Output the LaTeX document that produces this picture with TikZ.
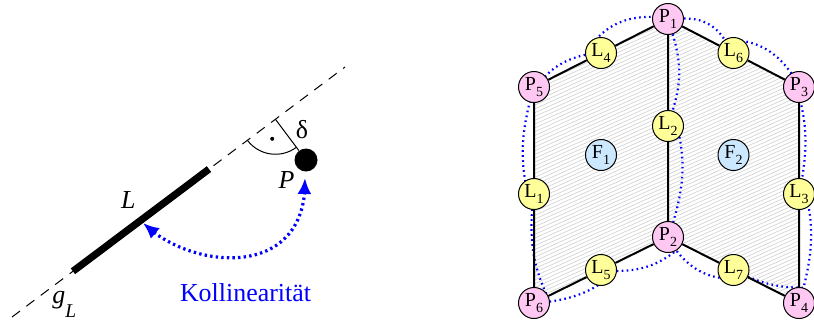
\documentclass[tikz,border=0pt]{standalone}
\usepackage{fontspec}
\setmainfont{Liberation Serif}
\usetikzlibrary{arrows.meta,calc,backgrounds,bending}

\definecolor{pinkP}{RGB}{255,200,242}
\definecolor{yellowL}{RGB}{255,255,153}
\definecolor{blueF}{RGB}{204,232,255}

\newcommand{\mysub}[2]{#1\raisebox{-2.6bp}{\fontsize{7}{7}\selectfont #2}}

\tikzset{
  vtx/.style={circle, draw, line width=0.5bp, minimum size=15.5bp, inner sep=0pt,
              font=\fontsize{10}{10}\selectfont},
  pnode/.style={vtx, fill=pinkP},
  lnode/.style={vtx, fill=yellowL},
  fnode/.style={vtx, fill=blueF},
  edge/.style={line width=1bp},
  hatch/.style={gray!38, line width=0.3bp},
  outline/.style={blue, line width=1.1bp, dash pattern=on 0.8bp off 1.7bp},
  lbl/.style={font=\fontsize{13}{15}\selectfont, inner sep=0pt},
  gline/.style={line width=0.5bp, dash pattern=on 5bp off 4bp},
  segL/.style={line width=3.6bp},
  thinline/.style={line width=0.5bp},
  pdot/.style={circle, fill=black, minimum size=11.5bp, inner sep=0pt},
  kollarrow/.style={blue, line width=1.6bp, dash pattern=on 1.2bp off 1.6bp,
                    {Latex[length=8bp,width=7bp]}-{Latex[length=8bp,width=7bp]}}
}

\begin{document}
\begin{tikzpicture}[x=0.5bp,y=-0.5bp]
\useasboundingbox (0,0) rectangle (814,321);

% ---------- left part ----------
\coordinate (gA) at (12,317);
\coordinate (gB) at (345,67);
\coordinate (Ls) at ($(gA)!0.183!(gB)$);
\coordinate (Le) at ($(gA)!0.5916!(gB)$);
\node[pdot] (P) at (306,160) {};
\coordinate (foot) at ($(gA)!(P)!(gB)$);

\draw[gline] (gA) -- (gB);
\draw[segL] (Ls) -- (Le);
\draw[thinline] (foot) -- (P);
\draw[thinline] ($(foot)!17.5bp!(gA)$) arc[start angle=216.9, end angle=306.9, radius=17.5bp];
\fill (272.2,138.8) circle[radius=1bp];

\node[lbl] (Llab) at (128.3,200.5) {\itshape L};
\node[lbl] (Plab) at (286.5,180) {\itshape P};
\node[lbl] (dlab) at (302,130) {δ};
\node[lbl, anchor=base west] (glab) at (52,303) {\itshape g\raisebox{-7.3bp}{\fontsize{9.8}{10}\selectfont\itshape L}};
\node[lbl, anchor=base, text=blue] (koll) at (245.5,301.5) {Kollinearität};

\coordinate (tipL) at (143,223);
\coordinate (tipP) at (305,178);
\draw[kollarrow] (tipL) .. controls (190,270) and (308,282) .. (tipP);

% ---------- right part ----------
\node[pnode] (P1) at (668,19) {\mysub{P}{1}};
\node[pnode] (P2) at (668,237) {\mysub{P}{2}};
\node[pnode] (P3) at (799,87) {\mysub{P}{3}};
\node[pnode] (P4) at (799,303) {\mysub{P}{4}};
\node[pnode] (P5) at (534,87) {\mysub{P}{5}};
\node[pnode] (P6) at (534,303) {\mysub{P}{6}};
\node[lnode] (L1) at (534,194) {\mysub{L}{1}};
\node[lnode] (L2) at (668,126) {\mysub{L}{2}};
\node[lnode] (L3) at (799,194) {\mysub{L}{3}};
\node[lnode] (L4) at (601,53) {\mysub{L}{4}};
\node[lnode] (L5) at (601,270) {\mysub{L}{5}};
\node[lnode] (L6) at (733.5,53) {\mysub{L}{6}};
\node[lnode] (L7) at (733.5,270) {\mysub{L}{7}};
\node[fnode] (F1) at (601,155) {\mysub{F}{1}};
\node[fnode] (F2) at (733.5,155) {\mysub{F}{2}};

\begin{pgfonlayer}{background}
  \begin{scope}
    \clip (P1.center) -- (P5.center) -- (P6.center) -- (P2.center) -- cycle
          (P1.center) -- (P3.center) -- (P4.center) -- (P2.center) -- cycle;
    \foreach \c in {0,3.8,...,470} {
      \draw[hatch] (515,\c) -- (815,{\c-135});
    }
  \end{scope}
  \draw[outline] (P1) to[bend left=29] (L6) to[bend left=28] (P3)
                 to[bend left=15] (L3) to[bend left=15] (P4)
                 to[bend left=11] (L7) to[bend left=32] (P2)
                 to[bend left=18] (L5) to[bend left=16] (P6)
                 to[bend left=15] (L1) to[bend left=15] (P5)
                 to[bend left=28] (L4) to[bend left=31] (P1);
  \draw[outline] (P1) to[bend left=17] (L2) to[bend left=17] (P2);
  \draw[edge] (P1) -- (L4) -- (P5) -- (L1) -- (P6) -- (L5) -- (P2) -- (L2) -- (P1);
  \draw[edge] (P1) -- (L6) -- (P3) -- (L3) -- (P4) -- (L7) -- (P2);
\end{pgfonlayer}
\end{tikzpicture}
\end{document}
